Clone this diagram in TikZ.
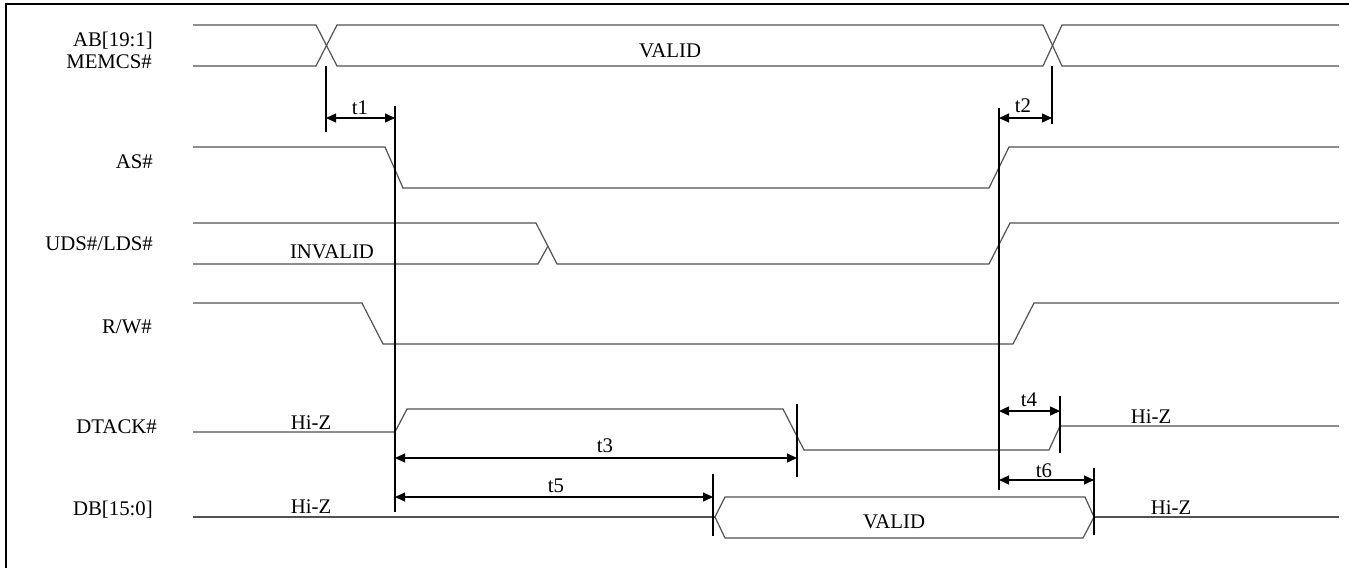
\documentclass[tikz,border=0pt]{standalone}
\usepackage{fontspec}
\setmainfont{Liberation Serif}
\usetikzlibrary{arrows.meta}
\begin{document}
\begin{tikzpicture}[x=1pt,y=-1pt,
  sig/.style={draw=black!68,line width=1.2pt,line join=miter},
  marker/.style={draw=black,line width=1.3pt},
  dimline/.style={draw=black,line width=1.3pt,{Triangle[length=10pt,width=9pt]}-{Triangle[length=10pt,width=9pt]}},
  lbl/.style={font=\fontsize{20.8}{24}\selectfont,inner sep=0pt,anchor=base east},
  txt/.style={font=\fontsize{20.8}{24}\selectfont,inner sep=0pt,anchor=base},
]
\useasboundingbox (0,0) rectangle (1349,568);
\draw[line width=2pt] (6,568) -- (6,3.5) -- (1349,3.5);

% signal names
\node[lbl] (lab)  at (153,46)  {AB[19:1]};
\node[lbl] (lmem) at (152,68)  {MEMCS\#};
\node[lbl] (las)  at (153,168) {AS\#};
\node[lbl] (luds) at (153,250) {UDS\#/LDS\#};
\node[lbl] (lrw)  at (152,333) {R/W\#};
\node[lbl] (ldt)  at (157,433) {DTACK\#};
\node[lbl] (ldb)  at (153,515) {DB[15:0]};

% AB / MEMCS#
\draw[sig] (193,25) -- (316,25) -- (337,66) -- (1043,66) -- (1062,25) -- (1339,25);
\draw[sig] (193,66) -- (316,66) -- (337,25) -- (1043,25) -- (1062,66) -- (1339,66);
\node[txt] (vab) at (670,57) {VALID};

% AS#
\draw[sig] (193,147) -- (385,147) -- (403,188) -- (989,188) -- (1009,147) -- (1339,147);

% UDS#/LDS#
\draw[sig] (193,223) -- (536,223) -- (557,264) -- (989,264) -- (1010,223) -- (1339,223);
\draw[sig] (193,264) -- (538,264) -- (548,246);
\node[txt] (inv) at (332,258) {INVALID};

% R/W#
\draw[sig] (193,303) -- (362,303) -- (383,344) -- (1013,344) -- (1034,303) -- (1339,303);

% DTACK#
\draw[sig] (193,432) -- (395,432) -- (407,409) -- (783,409) -- (804,450) -- (1049,450) -- (1060,426) -- (1339,426);
\node[txt] (hz1) at (311,429) {Hi-Z};
\node[txt] (hz2) at (1151,423) {Hi-Z};

% DB[15:0]
\draw[sig] (193,517) -- (715,517);
\draw[sig] (715,517) -- (725,497) -- (1085,497) -- (1094,517) -- (1083,538) -- (725,538) -- cycle;
\draw[sig] (1094,517) -- (1339,517);
\node[txt] (hz3) at (311,513) {Hi-Z};
\node[txt] (vdb) at (894,528) {VALID};
\node[txt] (hz4) at (1171,514) {Hi-Z};

% reference lines
\coordinate (a1) at (326,66);   \coordinate (a2) at (326,132);
\coordinate (b1) at (395,106);  \coordinate (b2) at (395,512);
\coordinate (c1) at (999,108);  \coordinate (c2) at (999,490);
\coordinate (d1) at (1052,66);  \coordinate (d2) at (1052,124);
\coordinate (e1) at (797,404);  \coordinate (e2) at (797,477);
\coordinate (f1) at (1060,396); \coordinate (f2) at (1060,453);
\coordinate (g1) at (713,474);  \coordinate (g2) at (713,536);
\coordinate (h1) at (1094,468); \coordinate (h2) at (1094,535);
\foreach \p in {a,b,c,d,e,f,g,h} \draw[marker] (\p1) -- (\p2);

% timing dimensions
\coordinate (y12) at (0,118);
\coordinate (y3) at (0,458);
\coordinate (y4) at (0,411);
\coordinate (y5) at (0,497);
\coordinate (y6) at (0,480);
\draw[dimline] (a1 |- y12) -- (b1 |- y12);
\draw[dimline] (c1 |- y12) -- (d1 |- y12);
\draw[dimline] (b1 |- y3) -- (e1 |- y3);
\draw[dimline] (c1 |- y4) -- (f1 |- y4);
\draw[dimline] (b1 |- y5) -- (g1 |- y5);
\draw[dimline] (c1 |- y6) -- (h1 |- y6);
\node[txt] (t1) at (360,114) {t1};
\node[txt] (t2) at (1023,112) {t2};
\node[txt] (t3) at (605,452) {t3};
\node[txt] (t4) at (1029,406) {t4};
\node[txt] (t5) at (556,492) {t5};
\node[txt] (t6) at (1044,477) {t6};
\end{tikzpicture}
\end{document}
